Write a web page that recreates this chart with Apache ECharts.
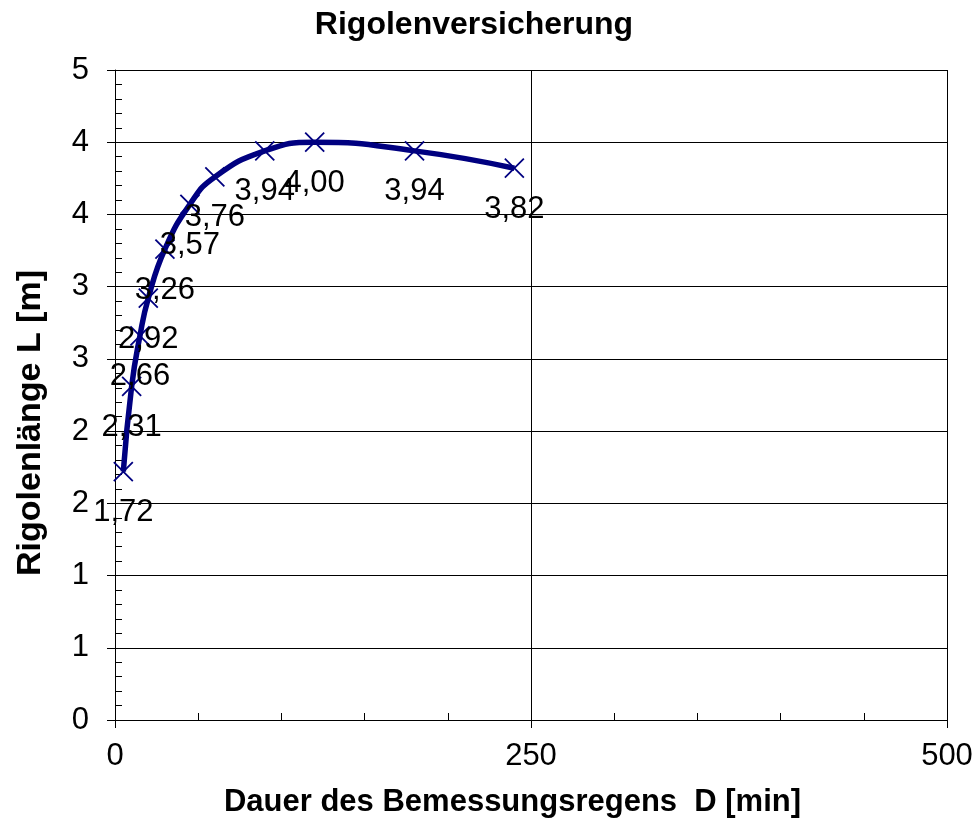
<!DOCTYPE html>
<html><head><meta charset="utf-8">
<script src="https://cdn.jsdelivr.net/npm/echarts@6/dist/echarts.min.js"></script>
<style>html,body{margin:0;padding:0;background:#fff}#c{width:979px;height:823px}</style>
</head><body><div id="c"></div>
<script>
// Data
const durations = [5, 10, 15, 20, 30, 45, 60, 90, 120, 180, 240];
const lengths = [1.72, 2.31, 2.66, 2.92, 3.26, 3.57, 3.76, 3.94, 4.00, 3.94, 3.82];
const yTickLabels = ['0', '1', '1', '2', '2', '3', '3', '4', '4', '5'];
const xTickLabels = ['0', '250', '500'];

const FONT = "'Liberation Sans', Arial, sans-serif";
const chart = echarts.init(document.getElementById('c'), null, {renderer: 'canvas'});

const option = {
  animation: false,
  backgroundColor: '#fff',
  title: {
    text: 'Rigolenversicherung', left: 474, top: 9, textAlign: 'center', padding: 0,
    textStyle: {fontFamily: FONT, fontSize: 32, fontWeight: 'bold', color: '#000'}
  },
  grid: {left: 115, right: 32, top: 70, bottom: 103, containLabel: false},
  xAxis: [
    {
      type: 'value', min: 0, max: 500, interval: 250,
      name: 'Dauer des Bemessungsregens  D [min]', nameLocation: 'middle', nameGap: 67,
      nameTextStyle: {fontFamily: FONT, fontSize: 31, fontWeight: 'bold', color: '#000', padding: [0, 37, 0, 0]},
      axisLine: {show: true, onZero: false, lineStyle: {color: '#000', width: 1}},
      axisTick: {show: true, inside: false, length: 8, lineStyle: {color: '#000', width: 1}},
      axisLabel: {fontFamily: FONT, fontSize: 31, color: '#000', margin: 21,
        formatter: v => xTickLabels[Math.round(v / 250)]},
      splitLine: {show: true, lineStyle: {color: '#000', width: 1}}
    },
    {
      type: 'value', position: 'bottom', min: 0, max: 500, interval: 50,
      axisLine: {show: false},
      axisTick: {show: true, inside: true, length: 7, lineStyle: {color: '#000', width: 1}},
      axisLabel: {show: false}, splitLine: {show: false}
    }
  ],
  yAxis: [
    {
      type: 'value', min: 0, max: 4.5, interval: 0.5,
      name: 'Rigolenlänge L [m]', nameLocation: 'middle', nameGap: 67,
      nameTextStyle: {fontFamily: FONT, fontSize: 34, fontWeight: 'bold', color: '#000', padding: [0, 56, 0, 0]},
      axisLine: {show: true, onZero: false, lineStyle: {color: '#000', width: 1}},
      axisTick: {show: true, inside: false, length: 8, lineStyle: {color: '#000', width: 1}},
      axisLabel: {fontFamily: FONT, fontSize: 31, color: '#000', margin: 26,
        formatter: v => yTickLabels[Math.round(v / 0.5)]},
      splitLine: {show: true, lineStyle: {color: '#000', width: 1}}
    },
    {
      type: 'value', position: 'left', min: 0, max: 4.5, interval: 0.1,
      axisLine: {show: false},
      axisTick: {show: true, inside: true, length: 7, lineStyle: {color: '#000', width: 1}},
      axisLabel: {show: false}, splitLine: {show: false}
    }
  ],
  series: [{
    type: 'line', xAxisIndex: 0, yAxisIndex: 0,
    data: durations.map((d, i) => [d, lengths[i]]),
    smooth: 0.5,
    symbol: 'path://M0,0L10,10M10,0L0,10', symbolSize: 19, showAllSymbol: true,
    lineStyle: {color: '#000080', width: 5.5},
    itemStyle: {color: 'transparent', borderColor: '#000080', borderWidth: 1.8},
    label: {show: true, position: 'bottom', distance: 15, fontFamily: FONT, fontSize: 31,
      lineHeight: 31, color: '#000',
      formatter: p => p.value[1].toFixed(2).replace('.', ',')},
    emphasis: {disabled: true}
  }]
};
chart.setOption(option);
</script>
</body></html>
